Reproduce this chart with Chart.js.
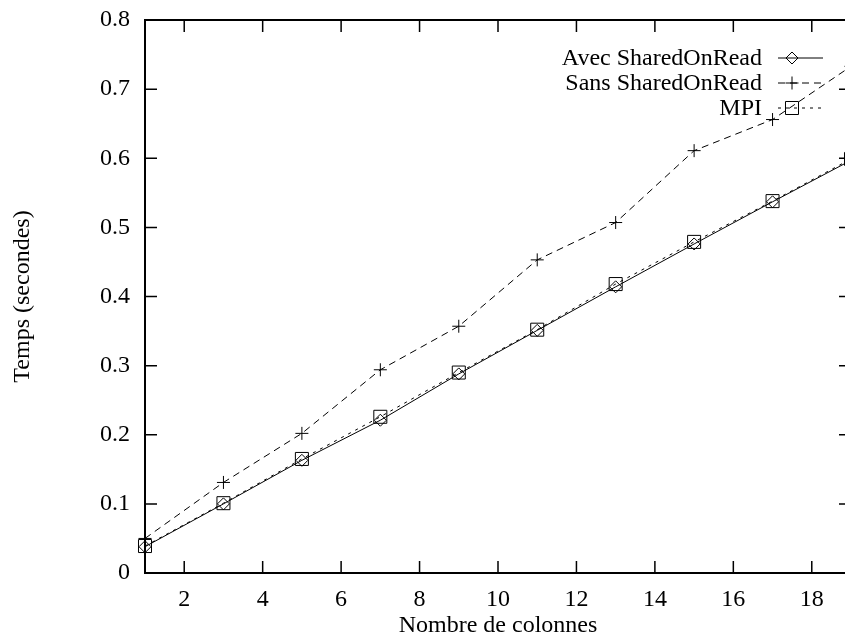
<!DOCTYPE html>
<html>
<head>
<meta charset="utf-8">
<script src="https://cdn.jsdelivr.net/npm/chart.js@4.4.1/dist/chart.umd.min.js"></script>
<style>
  html, body { margin: 0; padding: 0; background: #fff; overflow: hidden; }
  #wrap { position: absolute; left: 0; top: 0; width: 870px; height: 635px; }
</style>
</head>
<body>
<div id="wrap"><canvas id="c"></canvas></div>
<script>
// ---- data ----
const colonnes = [1, 3, 5, 7, 9, 11, 13, 15, 17, 19];
const avecSharedOnRead = [0.038, 0.100, 0.163, 0.221, 0.288, 0.351, 0.414, 0.476, 0.537, 0.597];
const sansSharedOnRead = [0.050, 0.131, 0.202, 0.294, 0.357, 0.453, 0.507, 0.611, 0.656, 0.733];
const mpi = [0.039, 0.101, 0.165, 0.226, 0.290, 0.352, 0.418, 0.479, 0.538, 0.599];
const seriesNames = ['Avec SharedOnRead', 'Sans SharedOnRead', 'MPI'];
const xTickValues = [2, 4, 6, 8, 10, 12, 14, 16, 18];
const xTickLabels = ['2', '4', '6', '8', '10', '12', '14', '16', '18'];
const yTickValues = [0, 0.1, 0.2, 0.3, 0.4, 0.5, 0.6, 0.7, 0.8];
const yTickLabels = ['0', '0.1', '0.2', '0.3', '0.4', '0.5', '0.6', '0.7', '0.8'];
const xTitle = 'Nombre de colonnes';
const yTitle = 'Temps (secondes)';

const FONT = '"Liberation Serif", "Times New Roman", serif';
const FS = 24;

function pts(ys) { return colonnes.map((x, i) => ({ x: x, y: ys[i] })); }

const frameAndLegend = {
  id: 'frameAndLegend',
  beforeDatasetsDraw(chart) {
    const { ctx, chartArea: a, scales } = chart;
    ctx.save();
    ctx.strokeStyle = '#000';
    ctx.lineWidth = 2;
    ctx.strokeRect(a.left, a.top, a.right - a.left, a.bottom - a.top);
    ctx.lineWidth = 1.5;
    const T = 12;
    ctx.beginPath();
    scales.y.ticks.forEach(t => {
      const y = scales.y.getPixelForValue(t.value);
      ctx.moveTo(a.left, y); ctx.lineTo(a.left + T, y);
      ctx.moveTo(a.right, y); ctx.lineTo(a.right - T, y);
    });
    scales.x.ticks.forEach(t => {
      const x = scales.x.getPixelForValue(t.value);
      ctx.moveTo(x, a.bottom); ctx.lineTo(x, a.bottom - T);
      ctx.moveTo(x, a.top); ctx.lineTo(x, a.top + T);
    });
    ctx.stroke();
    ctx.restore();
  },
  afterDatasetsDraw(chart) {
    const { ctx } = chart;
    const rows = [58, 83, 108];
    const textRight = 762, lineL = 778, lineR = 823, markX = 792;
    ctx.save();
    ctx.font = FS + 'px ' + FONT;
    ctx.textAlign = 'right';
    ctx.textBaseline = 'middle';
    chart.data.datasets.forEach((ds, i) => {
      const y = rows[i];
      ctx.fillStyle = '#000';
      ctx.fillText(ds.label, textRight, y + 1);
      ctx.save();
      ctx.strokeStyle = ds.borderColor;
      ctx.lineWidth = ds.borderWidth;
      ctx.setLineDash(ds.borderDash || []);
      ctx.beginPath();
      ctx.moveTo(lineL, y); ctx.lineTo(lineR, y);
      ctx.stroke();
      ctx.setLineDash([]);
      ctx.fillStyle = 'rgba(0,0,0,0)';
      ctx.strokeStyle = '#000';
      ctx.lineWidth = ds.pointBorderWidth;
      Chart.helpers.drawPoint(ctx, {
        pointStyle: ds.pointStyle, radius: ds.pointRadius, rotation: 0,
        borderWidth: ds.pointBorderWidth
      }, markX, y);
      ctx.restore();
    });
    ctx.restore();
  }
};

const common = {
  borderColor: '#000', borderWidth: 1, pointBorderColor: '#000',
  pointBackgroundColor: 'rgba(0,0,0,0)', pointBorderWidth: 1,
  fill: false, tension: 0, clip: false
};

new Chart(document.getElementById('c'), {
  type: 'line',
  data: {
    datasets: [
      Object.assign({}, common, { label: seriesNames[0], data: pts(avecSharedOnRead), pointStyle: 'rectRot', pointRadius: 6, borderDash: [] }),
      Object.assign({}, common, { label: seriesNames[1], data: pts(sansSharedOnRead), pointStyle: 'cross', pointRadius: 6.5, borderDash: [7, 5] }),
      Object.assign({}, common, { label: seriesNames[2], data: pts(mpi), pointStyle: 'rect', pointRadius: 9.2, borderDash: [3, 5] })
    ]
  },
  options: {
    responsive: true, maintainAspectRatio: false, animation: false,
    layout: { padding: { top: 20, right: 19, left: 0, bottom: 0 } },
    plugins: { legend: { display: false }, tooltip: { enabled: false } },
    scales: {
      x: {
        type: 'linear', min: 1, max: 19,
        afterBuildTicks: s => { s.ticks = xTickValues.map(v => ({ value: v })); },
        afterFit: s => { s.height = 62; s.paddingLeft = 0; s.paddingRight = 0; },
        grid: { display: false, drawTicks: false },
        border: { display: false },
        ticks: { color: '#000', font: { family: FONT, size: FS }, padding: 12, maxRotation: 0,
                 callback: (v, i) => xTickLabels[i] },
        title: { display: true, text: xTitle, color: '#000', font: { family: FONT, size: FS, lineHeight: 0.75 }, padding: 0 }
      },
      y: {
        type: 'linear', min: 0, max: 0.8,
        afterBuildTicks: s => { s.ticks = yTickValues.map(v => ({ value: v })); },
        afterFit: s => { s.width = 145; s.paddingTop = 0; s.paddingBottom = 0; },
        grid: { display: false, drawTicks: false },
        border: { display: false },
        ticks: { color: '#000', font: { family: FONT, size: FS }, padding: 15,
                 callback: (v, i) => yTickLabels[i] },
        title: { display: true, text: yTitle, color: '#000', font: { family: FONT, size: FS, lineHeight: 1.2 }, padding: { top: 8, bottom: 0 } }
      }
    }
  },
  plugins: [frameAndLegend]
});
</script>
</body>
</html>
